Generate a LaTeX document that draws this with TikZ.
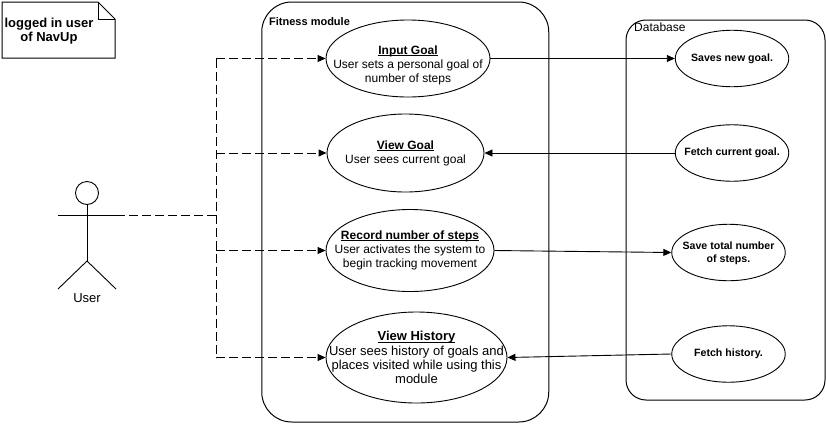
\documentclass[tikz,border=0pt]{standalone}
\usepackage{fontspec}
\setmainfont{Liberation Sans}
\usetikzlibrary{shapes.geometric,arrows.meta}
\newcommand{\fs}[2]{\fontsize{#1}{#2}\selectfont}
\newcommand{\ucul}[1]{\sbox0{\textbf{#1}}\usebox0\llap{\rule[-1.8pt]{\wd0}{1pt}}}
\tikzset{
  usecase/.style={draw,ellipse,inner sep=0pt,line width=0.9pt},
  uctext/.style={font=\fs{12}{14},align=center,inner sep=0pt},
  bigtext/.style={font=\fs{13}{14.3},align=center,inner sep=0pt},
  dbtext/.style={font=\fs{10.6}{12.5}\bfseries,align=center,inner sep=0pt},
  db/.style={usecase,minimum width=113.5pt,minimum height=56.5pt},
  boundary/.style={draw,line width=1pt,rounded corners=#1},
  flow/.style={line width=0.9pt,-{Triangle[length=8pt,width=7pt]}},
  dflow/.style={line width=0.9pt,dash pattern=on 9pt off 4pt},
  dflowa/.style={dflow,-{Triangle[length=8pt,width=7pt]}},
  caption/.style={inner sep=0pt,anchor=west},
}
\begin{document}
\begin{tikzpicture}[x=1pt,y=-1pt]
\useasboundingbox (0,0) rectangle (827,424);
% note
\draw[line width=1pt] (2,2) -- (98,2) -- (115,19) -- (115,58) -- (2,58) -- cycle;
\draw[line width=1pt] (98,2) -- (98,19) -- (115,19);
\node[font=\fs{13}{14.5}\bfseries,align=center,inner sep=0pt] (notetext) at (49,31) {logged in user\\of NavUp};
% boundaries
\node[boundary=30pt,minimum width=287pt,minimum height=420pt,inner sep=0pt] (fitness) at (405.25,212) {};
\node[boundary=20pt,minimum width=199pt,minimum height=380pt,inner sep=0pt] (database) at (725.5,210) {};
\node[caption,font=\fs{11}{12}\bfseries] (fitlabel) at (269,22) {Fitness module};
\node[caption,font=\fs{12}{13}] (dblabel) at (634,27.5) {Database};
% use cases
\node[usecase,minimum width=164pt,minimum height=77pt,label={[uctext,yshift=-7pt]center:{\ucul{Input Goal}\\User sets a personal goal of\\number of steps}}] (input) at (408,58.5) {};
\node[usecase,minimum width=157pt,minimum height=78pt,label={[uctext]center:{\ucul{View Goal}\\User sees current goal}}] (view) at (405.5,153) {};
\node[usecase,minimum width=168pt,minimum height=82pt,label={[uctext]center:{\ucul{Record number of steps}\\User activates the system to\\begin tracking movement}}] (record) at (410,250.5) {};
\node[usecase,minimum width=181pt,minimum height=91pt,label={[bigtext]center:{\ucul{View History}\\User sees history of goals and\\places visited while using this\\module}}] (history) at (416.5,357.5) {};
% database
\node[db,label={[dbtext]center:{Saves new goal.}}] (save) at (732,58.5) {};
\node[db,label={[dbtext]center:{Fetch current goal.}}] (fetch) at (732,153) {};
\node[db,label={[dbtext,yshift=-1pt]center:{Save total number\\of steps.}}] (total) at (728.5,252.5) {};
\node[db,label={[dbtext]center:{Fetch history.}}] (fhist) at (728.5,354) {};
% actor
\node[draw,circle,inner sep=0pt,minimum size=23pt,line width=0.9pt] (head) at (87,193) {};
\coordinate (hip) at (87,261);
\coordinate (armL) at (58,215.5);
\coordinate (armR) at (116,215.5);
\coordinate (legL) at (58,289);
\coordinate (legR) at (116,289);
\draw[line width=1pt] (head.south) -- (hip);
\draw[line width=0.9pt] (armL) -- (armR);
\draw[line width=0.9pt] (legL) -- (hip) -- (legR);
\node[font=\fs{13}{15},inner sep=0pt] (user) at (87,298) {User};
% connectors
\coordinate (trunkT) at (216,58.5);
\coordinate (trunkJ) at (216,215.5);
\coordinate (trunkB) at (216,357.5);
\coordinate (trunkV) at (216,153);
\coordinate (trunkR) at (216,250.5);
\draw[dflow] (armR) -- (trunkJ);
\draw[dflow] (trunkT) -- (trunkB);
\draw[dflowa] (trunkT) -- (input.west);
\draw[dflowa] (trunkV) -- (view.west);
\draw[dflowa] (trunkR) -- (record.west);
\draw[dflowa] (trunkB) -- (history.west);
\draw[flow] (input.east) -- (save.west);
\draw[flow] (fetch.west) -- (view.east);
\draw[flow] (record.east) -- (total.west);
\draw[flow] (fhist.west) -- (history.east);
\end{tikzpicture}
\end{document}
